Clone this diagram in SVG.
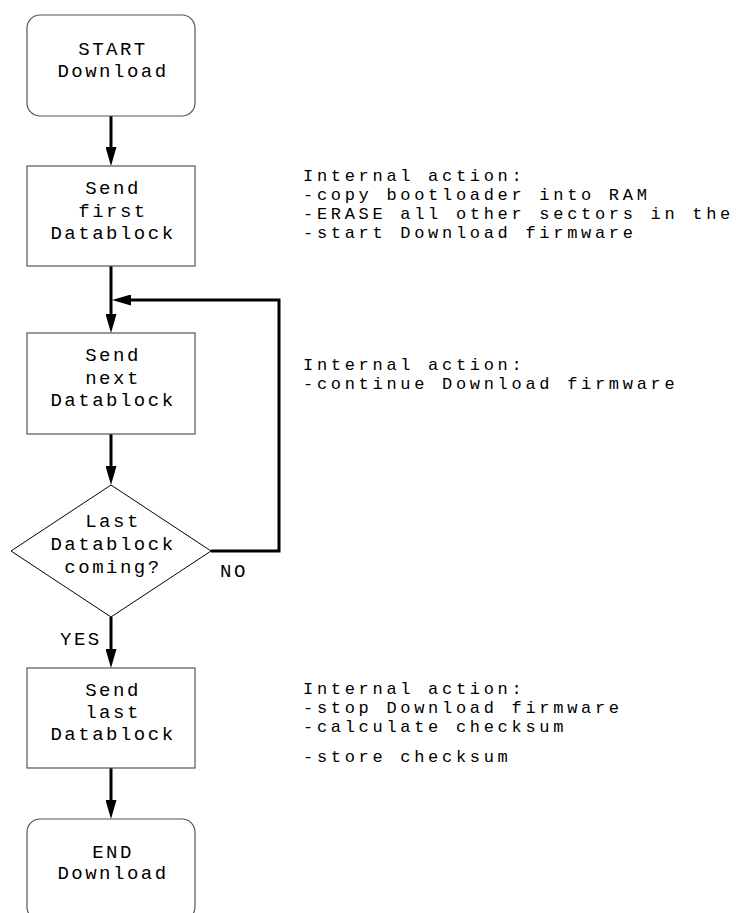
<svg xmlns="http://www.w3.org/2000/svg" width="749" height="913" viewBox="0 0 749 913">
  <style>
    .box { fill: #ffffff; stroke: #555555; stroke-width: 1.2; }
    .dec { fill: #ffffff; stroke: #000000; stroke-width: 1; }
    .lbl { font-family: "Liberation Mono", "DejaVu Sans Mono", monospace; font-size: 19px; letter-spacing: 2.5px; fill: #000000; }
    .note { font-size: 17px; letter-spacing: 3.7px; }
    .mid { text-anchor: middle; }
    .flow { fill: none; stroke: #000000; stroke-width: 3; stroke-linejoin: miter; }
  </style>
  <defs>
    <marker id="head" viewBox="0 0 19 11" refX="11" refY="5.5" markerWidth="19" markerHeight="11" markerUnits="userSpaceOnUse" orient="auto">
      <path d="M0,0 L19,5.5 L0,11 z" fill="#000000"/>
    </marker>
  </defs>

  <!-- connectors -->
  <g id="connectors">
    <path class="flow" d="M111,116 V158" marker-end="url(#head)"/>
    <path class="flow" d="M111,266 V325" marker-end="url(#head)"/>
    <path class="flow" d="M211,551 H279 V300 H120" marker-end="url(#head)"/>
    <path class="flow" d="M111,434 V477" marker-end="url(#head)"/>
    <path class="flow" d="M111,617 V660" marker-end="url(#head)"/>
    <path class="flow" d="M111,768 V811" marker-end="url(#head)"/>
    <text class="lbl" x="220" y="577">NO</text>
    <text class="lbl" x="60" y="645">YES</text>
  </g>

  <g id="start">
    <rect class="box" x="27" y="15" width="168" height="101" rx="13"/>
    <text class="lbl mid" x="113" y="55">START</text>
    <text class="lbl mid" x="113" y="77">Download</text>
  </g>

  <g id="send-first">
    <rect class="box" x="27" y="166" width="168" height="100"/>
    <text class="lbl mid" x="113" y="194">Send</text>
    <text class="lbl mid" x="113" y="217">first</text>
    <text class="lbl mid" x="113" y="239">Datablock</text>
  </g>

  <g id="send-next">
    <rect class="box" x="27" y="333" width="168" height="101"/>
    <text class="lbl mid" x="113" y="361">Send</text>
    <text class="lbl mid" x="113" y="384">next</text>
    <text class="lbl mid" x="113" y="406">Datablock</text>
  </g>

  <g id="last-check">
    <polygon class="dec" points="111,485 211,551 111,617 11,551"/>
    <text class="lbl mid" x="113" y="527">Last</text>
    <text class="lbl mid" x="113" y="550">Datablock</text>
    <text class="lbl mid" x="113" y="573">coming?</text>
  </g>

  <g id="send-last">
    <rect class="box" x="27" y="668" width="168" height="100"/>
    <text class="lbl mid" x="113" y="696">Send</text>
    <text class="lbl mid" x="113" y="718">last</text>
    <text class="lbl mid" x="113" y="740">Datablock</text>
  </g>

  <g id="end">
    <rect class="box" x="27" y="819" width="168" height="101" rx="13"/>
    <text class="lbl mid" x="113" y="858">END</text>
    <text class="lbl mid" x="113" y="879">Download</text>
  </g>

  <!-- side notes -->
  <g id="note-first">
    <text class="lbl note" x="303" y="181">Internal action:</text>
    <text class="lbl note" x="303" y="200">-copy bootloader into RAM</text>
    <text class="lbl note" x="303" y="219">-ERASE all other sectors in the</text>
    <text class="lbl note" x="303" y="238">-start Download firmware</text>
  </g>

  <g id="note-next">
    <text class="lbl note" x="303" y="370">Internal action:</text>
    <text class="lbl note" x="303" y="389">-continue Download firmware</text>
  </g>

  <g id="note-last">
    <text class="lbl note" x="303" y="694">Internal action:</text>
    <text class="lbl note" x="303" y="713">-stop Download firmware</text>
    <text class="lbl note" x="303" y="732">-calculate checksum</text>
    <text class="lbl note" x="303" y="762">-store checksum</text>
  </g>
</svg>
